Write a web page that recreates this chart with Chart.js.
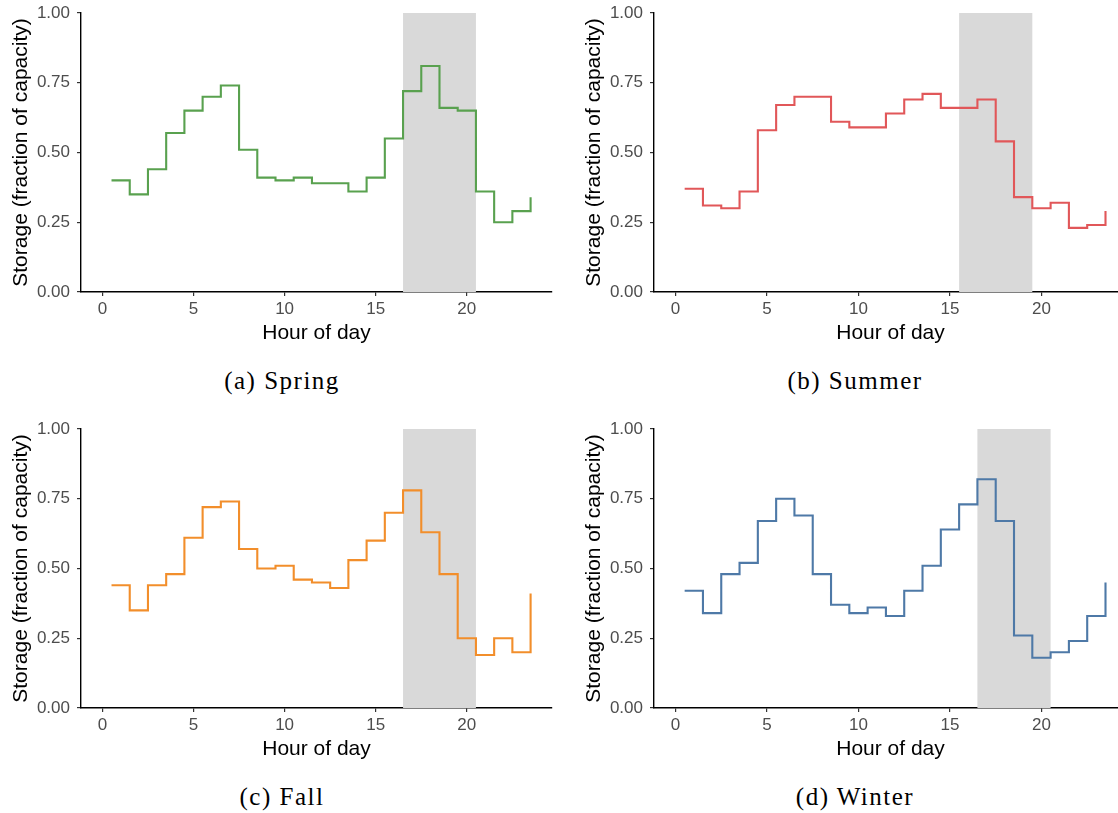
<!DOCTYPE html>
<html lang="en">
<head>
<meta charset="UTF-8">
<title>Seasonal storage profiles</title>
<script src="https://cdn.jsdelivr.net/npm/chart.js"></script>
<style>
  html, body { margin: 0; padding: 0; overflow: hidden; background: #fff; }
  body { width: 1118px; height: 813px; position: relative; }
  .panel { position: absolute; }
  .caption {
    position: absolute; width: 300px; text-align: center; line-height: 30px;
    font-family: "Liberation Serif", "DejaVu Serif", serif; font-size: 25px;
    letter-spacing: 1.5px; color: #000;
  }
</style>
</head>
<body>
<canvas id="spring" class="panel" width="560" height="350" style="left:0;top:0"></canvas>
<canvas id="summer" class="panel" width="580" height="350" style="left:560px;top:0"></canvas>
<canvas id="fall" class="panel" width="560" height="350" style="left:0;top:416px"></canvas>
<canvas id="winter" class="panel" width="580" height="350" style="left:560px;top:416px"></canvas>
<div class="caption" style="left:132px;top:366px">(a) Spring</div>
<div class="caption" style="left:705px;top:366px">(b) Summer</div>
<div class="caption" style="left:132px;top:782px">(c) Fall</div>
<div class="caption" style="left:705px;top:782px">(d) Winter</div>
<script>
// hour midpoints for each step
const hours = [0.5, 1.5, 2.5, 3.5, 4.5, 5.5, 6.5, 7.5, 8.5, 9.5, 10.5, 11.5,
               12.5, 13.5, 14.5, 15.5, 16.5, 17.5, 18.5, 19.5, 20.5, 21.5, 22.5, 23.5];

const springStorage = [0.40, 0.35, 0.44, 0.57, 0.65, 0.70, 0.74, 0.51, 0.41, 0.40, 0.41, 0.39,
                       0.39, 0.36, 0.41, 0.55, 0.72, 0.81, 0.66, 0.65, 0.36, 0.25, 0.29, 0.34];
const summerStorage = [0.37, 0.31, 0.30, 0.36, 0.58, 0.67, 0.70, 0.70, 0.61, 0.59, 0.59, 0.64,
                       0.69, 0.71, 0.66, 0.66, 0.69, 0.54, 0.34, 0.30, 0.32, 0.23, 0.24, 0.29];
const fallStorage   = [0.44, 0.35, 0.44, 0.48, 0.61, 0.72, 0.74, 0.57, 0.50, 0.51, 0.46, 0.45,
                       0.43, 0.53, 0.60, 0.70, 0.78, 0.63, 0.48, 0.25, 0.19, 0.25, 0.20, 0.41];
const winterStorage = [0.42, 0.34, 0.48, 0.52, 0.67, 0.75, 0.69, 0.48, 0.37, 0.34, 0.36, 0.33,
                       0.42, 0.51, 0.64, 0.73, 0.82, 0.67, 0.26, 0.18, 0.20, 0.24, 0.33, 0.45];

// peak window (hours) shaded in each season
const springPeak = [16.5, 20.5];
const summerPeak = [15.5, 19.5];
const fallPeak   = [16.5, 20.5];
const winterPeak = [16.5, 20.5];

const xTicks = [0, 5, 10, 15, 20];
const yTicks = [0, 0.25, 0.5, 0.75, 1];

const sans = '"Liberation Sans", Arial, sans-serif';

// grey band behind the line
const peakBand = {
  id: 'peakBand',
  beforeDatasetsDraw(chart, args, opts) {
    const x = chart.scales.x, y = chart.scales.y;
    const x0 = x.getPixelForValue(opts.range[0]);
    const x1 = x.getPixelForValue(opts.range[1]);
    const yTop = y.getPixelForValue(1), yBot = y.getPixelForValue(0);
    const ctx = chart.ctx;
    ctx.save();
    ctx.fillStyle = '#d9d9d9';
    ctx.fillRect(x0, yTop, x1 - x0, yBot - yTop);
    ctx.restore();
  }
};

function makePanel(id, values, peak, color, axisLeft, padRight, titleGap) {
  new Chart(document.getElementById(id), {
    type: 'line',
    data: {
      datasets: [{
        data: hours.map((h, i) => ({ x: h, y: values[i] })),
        borderColor: color,
        borderWidth: 2.1,
        stepped: true,
        pointRadius: 0,
        fill: false
      }]
    },
    plugins: [peakBand],
    options: {
      responsive: false,
      animation: false,
      layout: { padding: { left: 0, top: 13, right: padRight, bottom: 0 } },
      plugins: {
        legend: { display: false },
        tooltip: { enabled: false },
        peakBand: { range: peak }
      },
      scales: {
        x: {
          type: 'linear',
          min: -1.175,
          max: 24.675,
          afterBuildTicks: s => { s.ticks = xTicks.map(v => ({ value: v })); },
          afterFit: s => { s.height = 58; s.paddingLeft = 0; s.paddingRight = 0; },
          grid: { drawOnChartArea: false, drawTicks: true, tickLength: 4, color: '#333', lineWidth: 1.2 },
          border: { display: true, color: '#000', width: 1.4 },
          ticks: { color: '#4d4d4d', padding: 3, font: { family: sans, size: 17 } },
          title: {
            display: true, text: 'Hour of day', color: '#000',
            font: { family: sans, size: 21 }, padding: { top: 0, bottom: 4.4 }
          }
        },
        y: {
          type: 'linear',
          min: 0,
          max: 1,
          afterBuildTicks: s => { s.ticks = yTicks.map(v => ({ value: v })); },
          afterFit: s => { s.width = axisLeft; s.paddingTop = 0; s.paddingBottom = 0; },
          grid: { drawOnChartArea: false, drawTicks: true, tickLength: 4, color: '#333', lineWidth: 1.2 },
          border: { display: true, color: '#000', width: 1.4 },
          ticks: { color: '#4d4d4d', padding: 7, font: { family: sans, size: 17 },
                   callback: v => v.toFixed(2) },
          title: {
            display: true, text: 'Storage (fraction of capacity)', color: '#000',
            font: { family: sans, size: 21 }, padding: { top: titleGap, bottom: 0 }
          }
        }
      }
    }
  });
}

makePanel('spring', springStorage, springPeak, '#59a14f', 81, 8, 8.6);
makePanel('summer', summerStorage, summerPeak, '#e15759', 94, 13, 21.2);
makePanel('fall',   fallStorage,   fallPeak,   '#f28e2b', 81, 8, 8.6);
makePanel('winter', winterStorage, winterPeak, '#4e79a7', 94, 13, 21.2);
</script>
</body>
</html>
